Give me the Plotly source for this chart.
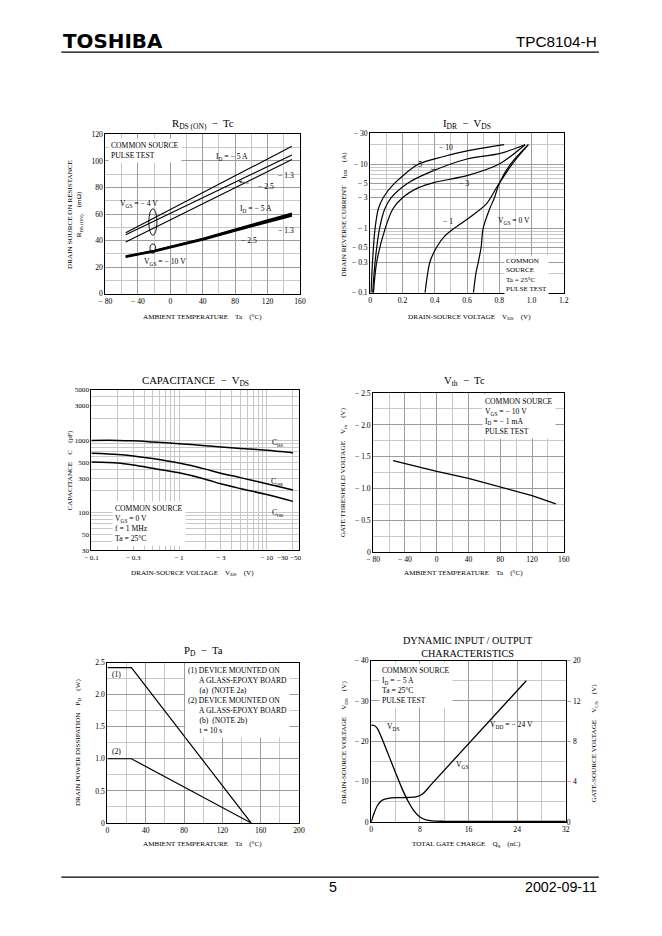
import math
import plotly.graph_objects as go

# The browser body keeps its default 8 px margin, so the figure is 646 x 920.
PAGE_OFF = 8
W, H = 646, 920
# measured mapping from page pixels to the photographed picture
SX, OX = 0.977, 8.0
SY, OY = 0.988, 5.0
FS = 1.02  # font compensation for that mapping
FONT = "Liberation Serif"
GRID = "#9c9c9c"
MINOR = "#c8c8c8"
MINUS = "\u2212"

def fx(t):
    page = (t - OX) / SX
    return (page - PAGE_OFF) / W

def fy(t):
    page = (t - OY) / SY
    return 1 - (page - PAGE_OFF) / H

def fs(s):
    return round(s * FS, 2)

# ---------------- data ----------------
# RDS(ON) - Tc
rds_ta = [-55, -20, 0, 40, 80, 120, 150]
rds_vgs4_id5 = [46.0, 57.1, 63.4, 76.1, 88.8, 101.5, 111.0]
rds_vgs4_id25 = [44.5, 54.8, 60.6, 72.3, 84.1, 95.8, 104.5]
rds_vgs4_id13 = [39.0, 49.6, 55.6, 67.7, 79.8, 91.9, 101.0]
rds_vgs10_id5 = [28.3, 32.5, 35.5, 41.5, 48.5, 55.5, 60.5]
rds_vgs10_id25 = [28.0, 32.2, 35.2, 41.1, 48.0, 54.8, 59.5]
rds_vgs10_id13 = [27.6, 31.8, 34.8, 40.6, 47.4, 54.1, 58.6]

# IDR - VDS (magnitudes)
idr_vgs10_v = [0.005, 0.014, 0.03, 0.05, 0.08, 0.15, 0.30, 0.45, 0.60, 0.83]
idr_vgs10_i = [0.1, 0.3, 1, 2, 3, 5, 10, 13, 16, 20]
idr_vgs5_v = [0.015, 0.03, 0.058, 0.09, 0.13, 0.23, 0.37, 0.60, 0.80, 0.96]
idr_vgs5_i = [0.1, 0.3, 1, 2, 3, 5, 7.5, 12, 14.5, 20]
idr_vgs3_v = [0.02, 0.04, 0.093, 0.14, 0.20, 0.30, 0.40, 0.60, 0.80, 0.96]
idr_vgs3_i = [0.1, 0.3, 1, 2, 3, 4.3, 5.2, 6.6, 10, 20]
idr_vgs1_v = [0.34, 0.37, 0.41, 0.46, 0.52, 0.62, 0.72, 0.79, 0.88, 0.98]
idr_vgs1_i = [0.1, 0.3, 0.5, 0.75, 1, 1.5, 2.4, 4.6, 10, 20]
idr_vgs0_v = [0.64, 0.655, 0.67, 0.687, 0.70, 0.74, 0.77, 0.80, 0.87, 0.98]
idr_vgs0_i = [0.1, 0.2, 0.3, 0.5, 1, 2, 3, 5, 10, 20]

# Capacitance - VDS (magnitudes)
cap_v = [0.1, 0.2, 0.3, 0.5, 1, 2, 3, 5, 10, 20]
cap_ciss = [1000, 1000, 985, 950, 900, 845, 810, 775, 730, 675]
cap_coss = [665, 640, 610, 560, 485, 400, 350, 305, 250, 205]
cap_crss = [500, 485, 455, 410, 355, 290, 250, 215, 178, 143]

# Vth - Tc (magnitudes)
vth_ta = [-55, 0, 40, 80, 120, 150]
vth_v = [1.44, 1.27, 1.16, 1.03, 0.89, 0.76]

# PD - Ta
pd_ta = [0, 25, 150]
pd_1 = [2.42, 2.42, 0.0]
pd_2 = [1.0, 1.0, 0.0]

# Dynamic input / output (magnitudes)
qg_vds = [0, 0.5, 1, 1.5, 2, 3, 4, 5, 6, 7, 8, 9, 10, 12, 16, 32]
vds_v = [24, 23.9, 23.2, 21.6, 19.8, 16, 12.2, 8.5, 5.3, 2.8, 1.2, 0.5, 0.25, 0.15, 0.1, 0.1]
qg_vgs = [0, 0.5, 1, 1.5, 2, 3, 4, 6, 7.5, 8.5, 10, 25.5]
vgs_v = [0, 0.9, 1.6, 2.0, 2.2, 2.35, 2.4, 2.42, 2.5, 2.8, 3.8, 14]

fig = go.Figure()

def line(x, y, n, width=1.2, shape="linear", yax=None):
    fig.add_trace(go.Scatter(
        x=x, y=y, mode="lines",
        xaxis="x" if n == 1 else f"x{n}",
        yaxis=yax if yax else ("y" if n == 1 else f"y{n}"),
        line=dict(color="black", width=width, shape=shape, smoothing=0.8),
        hoverinfo="skip", showlegend=False))

for ys in (rds_vgs4_id5, rds_vgs4_id25, rds_vgs4_id13):
    line(rds_ta, ys, 1, 1.1)
for ys in (rds_vgs10_id5, rds_vgs10_id25, rds_vgs10_id13):
    line(rds_ta, ys, 1, 1.8)
for xv, yv in ((idr_vgs10_v, idr_vgs10_i), (idr_vgs5_v, idr_vgs5_i),
               (idr_vgs3_v, idr_vgs3_i), (idr_vgs1_v, idr_vgs1_i),
               (idr_vgs0_v, idr_vgs0_i)):
    line(xv, yv, 2, 1.2, "spline")
for ys in (cap_ciss, cap_coss, cap_crss):
    line(cap_v, ys, 3, 1.5, "spline")
line(vth_ta, vth_v, 4, 1.3)
line(pd_ta, pd_1, 5, 1.2)
line(pd_ta, pd_2, 5, 1.2)
line(qg_vds, vds_v, 6, 1.3, "spline")
line(qg_vgs, vgs_v, 6, 1.3, "spline", yax="y7")

tf = dict(family=FONT, size=fs(7.5), color="black")
tf7 = dict(family=FONT, size=fs(7), color="black")

def axis(dom, anchor, **kw):
    d = dict(domain=dom, anchor=anchor, showline=True, linecolor="black",
             linewidth=1, mirror=True, showgrid=True, gridcolor=GRID,
             gridwidth=0.7, zeroline=False, ticks="", tickfont=tf,
             fixedrange=True, tickmode="array", layer="below traces",
             tickangle=0)
    d.update(kw)
    return d

def lin_minor(a, b, step):
    n = int(round((b - a) / step))
    return [a + i * step for i in range(n + 1)]

def log_minor(lo, hi):
    vals = []
    d = 10 ** math.floor(math.log10(lo))
    while d <= hi:
        for k in range(1, 10):
            v = k * d
            if lo <= v <= hi:
                vals.append(v)
        d *= 10
    return vals

def mgrid(vals):
    return dict(tickmode="array", tickvals=vals, showgrid=True,
                gridcolor=MINOR, gridwidth=0.6, ticks="")

lay = {}
lay["xaxis"] = axis([fx(106), fx(300)], "y", range=[-80, 160],
                    tickvals=[-80, -40, 0, 40, 80, 120, 160],
                    ticktext=[MINUS + " 80", MINUS + " 40", "0", "40", "80", "120", "160"],
                    minor=mgrid(lin_minor(-80, 160, 20)))
lay["yaxis"] = axis([fy(294), fy(135)], "x", range=[0, 120],
                    tickvals=[0, 20, 40, 60, 80, 100, 120],
                    ticktext=["0", "20", "40", "60", "80", "100", "120"],
                    minor=mgrid(lin_minor(0, 120, 10)))
lay["xaxis2"] = axis([fx(370), fx(563)], "y2", range=[0, 1.2],
                     tickvals=[0, 0.2, 0.4, 0.6, 0.8, 1.0, 1.2],
                     ticktext=["0", "0.2", "0.4", "0.6", "0.8", "1.0", "1.2"],
                     minor=mgrid(lin_minor(0, 1.2, 0.1)))
yt2 = [0.1, 0.3, 0.5, 1, 3, 5, 10, 30]
lay["yaxis2"] = axis([fy(293), fy(134)], "x2", type="log",
                     range=[-1, math.log10(30)], tickvals=yt2,
                     ticktext=[MINUS + " " + f"{v:g}" for v in yt2],
                     minor=mgrid(log_minor(0.1, 30)))
lay["xaxis3"] = axis([fx(92), fx(299)], "y3", type="log", range=[-1, 1.37],
                     tickvals=[0.1, 0.3, 1, 3, 10, 18],
                     ticktext=[MINUS + " 0.1", MINUS + " 0.3", MINUS + " 1",
                               MINUS + " 3", MINUS + " 10", MINUS + "30 " + MINUS + "50"],
                     showgrid=False, tickfont=tf7,
                     minor=mgrid([0.1, 0.2, 0.3, 0.4, 0.5, 0.6, 0.7, 0.8, 0.9,
                                  1, 2, 3, 4, 5, 6, 7, 8, 9, 10, 20]))
yt3 = [30, 50, 100, 300, 500, 1000, 3000, 5000]
lay["yaxis3"] = axis([fy(550), fy(390)], "x3", type="log",
                     range=[math.log10(30), math.log10(5000)], tickvals=yt3,
                     ticktext=[f"{v:g}" for v in yt3], showgrid=False,
                     tickfont=tf7, minor=mgrid(log_minor(30, 5000)))
lay["xaxis4"] = axis([fx(373), fx(563)], "y4", range=[-80, 160],
                     tickvals=[-80, -40, 0, 40, 80, 120, 160],
                     ticktext=[MINUS + " 80", MINUS + " 40", "0", "40", "80", "120", "160"],
                     minor=mgrid(lin_minor(-80, 160, 20)))
yt4 = [0, 0.5, 1.0, 1.5, 2.0, 2.5]
lay["yaxis4"] = axis([fy(552), fy(393)], "x4", range=[0, 2.5], tickvals=yt4,
                     ticktext=["0"] + [MINUS + " " + f"{v:.1f}" for v in yt4[1:]],
                     minor=mgrid(lin_minor(0, 2.5, 0.25)))
lay["xaxis5"] = axis([fx(108), fx(299)], "y5", range=[0, 200],
                     tickvals=[0, 40, 80, 120, 160, 200],
                     ticktext=["0", "40", "80", "120", "160", "200"],
                     minor=mgrid(lin_minor(0, 200, 20)))
lay["yaxis5"] = axis([fy(822), fy(662)], "x5", range=[0, 2.5], tickvals=yt4,
                     ticktext=["0", "0.5", "1.0", "1.5", "2.0", "2.5"],
                     minor=mgrid(lin_minor(0, 2.5, 0.25)))
lay["xaxis6"] = axis([fx(371), fx(565)], "y6", range=[0, 32],
                     tickvals=[0, 8, 16, 24, 32],
                     ticktext=["0", "8", "16", "24", "32"],
                     minor=mgrid(lin_minor(0, 32, 4)))
lay["yaxis6"] = axis([fy(821), fy(660)], "x6", range=[0, 40],
                     tickvals=[0, 10, 20, 30, 40],
                     ticktext=["0", MINUS + " 10", MINUS + " 20", MINUS + " 30", MINUS + " 40"],
                     minor=mgrid(lin_minor(0, 40, 5)))
lay["yaxis7"] = dict(overlaying="y6", anchor="x6", side="right", range=[0, 16],
                     tickmode="array", tickvals=[0, 4, 8, 12, 16],
                     ticktext=["0", MINUS + " 4", MINUS + " 8", MINUS + " 12", MINUS + " 20"],
                     showgrid=False, zeroline=False, showline=False, ticks="",
                     tickfont=tf, fixedrange=True)

ann = []

def txt(text, x, y, ref, size=7.5, xa="center", ya="middle", bg=None,
        align="left", angle=0, pad=2):
    a = dict(text=text, x=x, y=y, showarrow=False, xanchor=xa, yanchor=ya,
             align=align, textangle=angle,
             font=dict(family=FONT, size=fs(size), color="black"))
    a["xref"] = "x" if ref == 1 else f"x{ref}"
    a["yref"] = "y" if ref == 1 else f"y{ref}"
    if bg:
        a["bgcolor"] = bg
        a["borderpad"] = pad
    ann.append(a)

def arrow(text, x, y, tx, ty, ref):
    r = "" if ref == 1 else str(ref)
    ann.append(dict(text=text, x=tx, y=ty, ax=x, ay=y, xref="x" + r, yref="y" + r,
                    axref="x" + r, ayref="y" + r, showarrow=True, arrowhead=2,
                    arrowsize=0.8, arrowwidth=0.8, standoff=0, startstandoff=8,
                    font=dict(family=FONT, size=fs(7.5), color="black")))

def P(text, x, y, size=7.5, angle=0, xa="center", ya="middle", family=FONT):
    ann.append(dict(text=text, x=fx(x), y=fy(y), xref="paper", yref="paper",
                    showarrow=False, xanchor=xa, yanchor=ya, textangle=angle,
                    font=dict(family=family, size=fs(size), color="black")))

SANS = "Liberation Sans Narrow, Liberation Sans"
P("<b>TOSHIBA</b>", 62, 42, size=19.5, xa="left", family="DejaVu Sans")
P("TPC8104-H", 598, 42, size=15, xa="right", family=SANS)
P("5", 333, 886, size=14, family=SANS)
P("2002-09-11", 598, 886, size=14, xa="right", family=SANS)

P("R<sub>DS (ON)</sub>  " + MINUS + "  Tc", 203, 125, size=10.5)
P("I<sub>DR</sub>  " + MINUS + "  V<sub>DS</sub>", 466, 125, size=10.5)
P("CAPACITANCE  " + MINUS + "  V<sub>DS</sub>", 196, 381, size=10.5)
P("V<sub>th</sub>  " + MINUS + "  Tc", 464, 381, size=10.5)
P("P<sub>D</sub>  " + MINUS + "  Ta", 204, 650, size=10.5)
P("DYNAMIC INPUT / OUTPUT<br>CHARACTERISTICS", 467, 646, size=10)

P("AMBIENT TEMPERATURE    Ta    (°C)", 203, 317, size=7)
P("DRAIN-SOURCE VOLTAGE    V<sub>DS</sub>    (V)", 469, 317, size=7)
P("DRAIN-SOURCE VOLTAGE    V<sub>DS</sub>    (V)", 193, 573, size=7)
P("AMBIENT TEMPERATURE    Ta    (°C)", 463, 573, size=7)
P("AMBIENT TEMPERATURE    Ta    (°C)", 203, 843, size=7)
P("TOTAL GATE CHARGE    Q<sub>g</sub>    (nC)", 466, 843, size=7)

P("DRAIN SOURCE ON RESISTANCE<br>R<sub>DS (ON)</sub>    (mΩ)", 75, 215, size=7, angle=-90)
P("DRAIN REVERSE CURRENT    I<sub>DR</sub>    (A)", 343, 215, size=7, angle=-90)
P("CAPACITANCE    C    (pF)", 71, 470, size=7, angle=-90)
P("GATE THRESHOLD VOLTAGE    V<sub>th</sub>    (V)", 343, 472, size=7, angle=-90)
P("DRAIN POWER DISSIPATION    P<sub>D</sub>    (W)", 78, 742, size=7, angle=-90)
P("DRAIN-SOURCE VOLTAGE    V<sub>DS</sub>    (V)", 344, 742, size=7, angle=-90)
P("GATE-SOURCE VOLTAGE    V<sub>GS</sub>    (V)", 593, 742, size=7, angle=-90)

txt("COMMON SOURCE<br>PULSE TEST", -77, 117, 1, xa="left", ya="top", bg="white")
txt("I<sub>D</sub> = " + MINUS + " 5 A", 76, 103, 1)
txt(MINUS + " 1.3", 143, 89, 1)
arrow(MINUS + " 2.5", 118, 81, 84, 84.5, 1)
txt("V<sub>GS</sub> = " + MINUS + " 4 V", -38, 67.5, 1)
txt("I<sub>D</sub> = " + MINUS + " 5 A", 106, 64, 1)
txt(MINUS + " 1.3", 143, 47.5, 1)
arrow(MINUS + " 2.5", 97, 40, 104, 50, 1)
txt("V<sub>GS</sub> = " + MINUS + " 10 V", -7, 24, 1)

txt(MINUS + " 10", 0.47, math.log10(18.2), 2)
arrow(MINUS + " 5", 0.29, 1.0, 0.41, math.log10(7.85), 2)
txt(MINUS + " 3", 0.58, math.log10(4.9), 2)
txt(MINUS + " 1", 0.48, math.log10(1.28), 2)
txt("V<sub>GS</sub> = 0 V", 0.89, math.log10(1.28), 2)
txt("COMMON<br>SOURCE<br>Ta = 25°C<br>PULSE TEST", 0.83, math.log10(0.39), 2,
    xa="left", ya="top", bg="white", size=7, pad=1)

txt("C<sub>iss</sub>", 1.12, 2.96, 3)
txt("C<sub>oss</sub>", 1.12, 2.42, 3)
txt("C<sub>rss</sub>", 1.12, 2.0, 3)
txt("COMMON SOURCE<br>V<sub>GS</sub> = 0 V<br>f = 1 MHz<br>Ta = 25°C",
    -0.76, 2.16, 3, xa="left", ya="top", bg="white")

txt("COMMON SOURCE<br>V<sub>GS</sub> = " + MINUS + " 10 V<br>I<sub>D</sub> = " + MINUS +
    " 1 mA<br>PULSE TEST", 57, 2.48, 4, xa="left", ya="top", bg="white")

txt("(1)", 9.5, 2.31, 5)
txt("(2)", 9.5, 1.12, 5)
txt("(1) DEVICE MOUNTED ON<br>      A GLASS-EPOXY BOARD<br>      (a)  (NOTE 2a)<br>"
    "(2) DEVICE MOUNTED ON<br>      A GLASS-EPOXY BOARD<br>      (b)  (NOTE 2b)<br>"
    "      t = 10 s", 81, 2.49, 5, xa="left", ya="top", bg="white")

txt("COMMON SOURCE<br>I<sub>D</sub> = " + MINUS + " 5 A<br>Ta = 25°C<br>PULSE TEST",
    1.3, 39.5, 6, xa="left", ya="top", bg="white")
txt("V<sub>DS</sub>", 3.6, 23.5, 6)
txt("V<sub>GS</sub>", 15, 14.2, 6)
txt("V<sub>DD</sub> = " + MINUS + " 24 V", 23, 24, 6)

shapes = [
    dict(type="line", xref="paper", yref="paper", x0=fx(62), x1=fx(598),
         y0=fy(53), y1=fy(53), line=dict(color="black", width=1.3)),
    dict(type="line", xref="paper", yref="paper", x0=fx(62), x1=fx(598),
         y0=fy(876), y1=fy(876), line=dict(color="black", width=1.3)),
    dict(type="circle", xref="x", yref="y", x0=-26.5, x1=-16.5, y0=44, y1=64,
         line=dict(color="black", width=0.9)),
    dict(type="circle", xref="x", yref="y", x0=-25, x1=-18, y0=30.5, y1=37.5,
         line=dict(color="black", width=0.9)),
]

fig.update_layout(width=W, height=H, autosize=False,
                  margin=dict(l=0, r=0, t=0, b=0),
                  paper_bgcolor="white", plot_bgcolor="white",
                  showlegend=False, annotations=ann, shapes=shapes,
                  font=dict(family=FONT, color="black"), **lay)

fig.write_html("out.html", config={"displayModeBar": False})
